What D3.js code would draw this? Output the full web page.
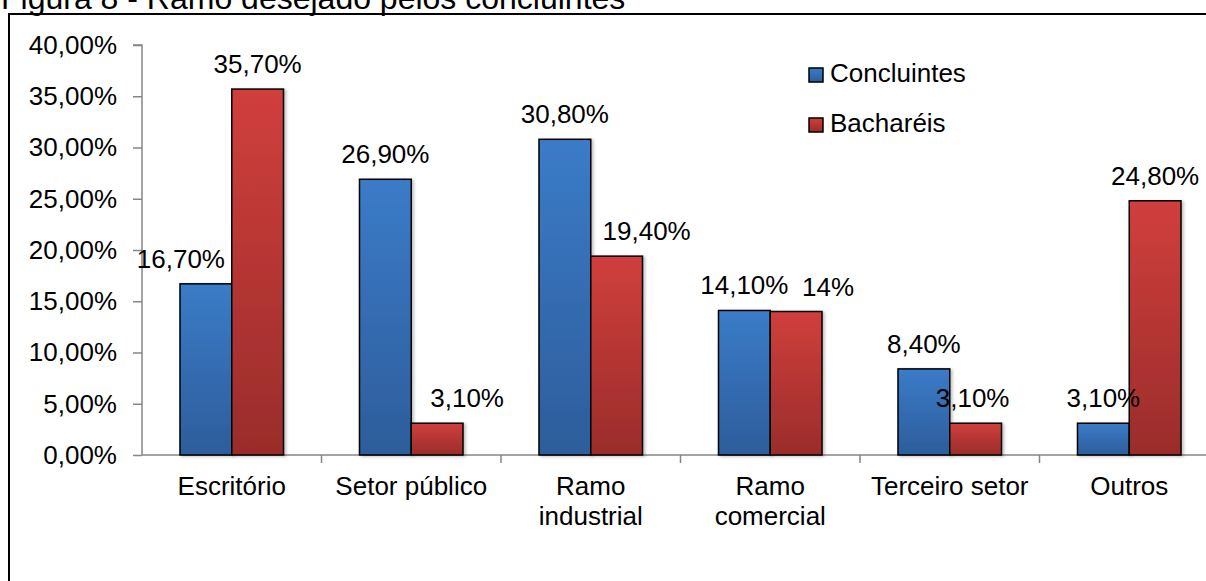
<!DOCTYPE html>
<html>
<head>
<meta charset="utf-8">
<script src="https://cdn.jsdelivr.net/npm/d3@7"></script>
<style>
  body { margin: 0; background: #fff; }
  text { font-family: Arial, "Liberation Sans", sans-serif; fill: #000; }
</style>
</head>
<body>
<svg id="chart" width="1206" height="581"></svg>
<script>
// data
let categories = ["Escritório", "Setor público", "Ramo industrial", "Ramo comercial", "Terceiro setor", "Outros"];
let categoryLines = [["Escritório"], ["Setor público"], ["Ramo", "industrial"], ["Ramo", "comercial"], ["Terceiro setor"], ["Outros"]];
let seriesNames = ["Concluintes", "Bacharéis"];
let concluintes = [0.167, 0.269, 0.308, 0.141, 0.084, 0.031];
let bachareis = [0.357, 0.031, 0.194, 0.14, 0.031, 0.248];
let concluintesLabels = ["16,70%", "26,90%", "30,80%", "14,10%", "8,40%", "3,10%"];
let bachareisLabels = ["35,70%", "3,10%", "19,40%", "14%", "3,10%", "24,80%"];
let yTicks = [0, 0.05, 0.10, 0.15, 0.20, 0.25, 0.30, 0.35, 0.40];

let svg = d3.select("#chart");
let fontSize = 26;

let ptBR = d3.formatLocale({decimal: ",", thousands: ".", grouping: [3], currency: ["R$", ""]});
let pct = ptBR.format(".2%");

let axisLeftX = 142, axisBottomY = 455, axisTopY = 45;

let x0 = d3.scaleBand()
    .domain(categories)
    .range([axisLeftX, axisLeftX + 6 * 179.5])
    .paddingInner(0)
    .paddingOuter(0);

let x1 = d3.scaleBand()
    .domain(seriesNames)
    .range([0, x0.bandwidth()])
    .paddingInner(0)
    .paddingOuter(0.734);

let y = d3.scaleLinear()
    .domain([0, 0.40])
    .range([axisBottomY, axisTopY]);

let colors = {
    "Concluintes": ["#3b7bc8", "#2d5d9b"],
    "Bacharéis": ["#d03f3c", "#9a2c2b"]
};

// labels that Excel moved sideways to dodge the neighbouring bar
let labelNudge = {
    "Escritório|Concluintes": -25,
    "Setor público|Bacharéis": 30,
    "Ramo industrial|Bacharéis": 30,
    "Ramo comercial|Bacharéis": 32,
    "Terceiro setor|Bacharéis": -3
};

let defs = svg.append("defs");
seriesNames.forEach(function (s, i) {
    let g = defs.append("linearGradient")
        .attr("id", "grad" + i)
        .attr("x1", 0).attr("y1", 0).attr("x2", 0).attr("y2", 1);
    g.append("stop").attr("offset", "0%").attr("stop-color", colors[s][0]);
    g.append("stop").attr("offset", "100%").attr("stop-color", colors[s][1]);
});
let shadow = defs.append("filter").attr("id", "shadow")
    .attr("x", "-20%").attr("y", "-20%").attr("width", "150%").attr("height", "140%");
shadow.append("feDropShadow")
    .attr("dx", 2).attr("dy", 1).attr("stdDeviation", 1.5)
    .attr("flood-color", "#000").attr("flood-opacity", 0.25);

// frame
svg.append("rect")
    .attr("x", 9).attr("y", 14)
    .attr("width", 1250).attr("height", 650)
    .attr("fill", "none")
    .attr("stroke", "#000")
    .attr("stroke-width", 2);

// title (partly cut off by the top)
svg.append("text")
    .attr("x", 1).attr("y", 9)
    .style("font-size", "32px")
    .text("Figura 8 - Ramo desejado pelos concluintes");

// y axis
let yAxis = svg.append("g")
    .attr("transform", "translate(" + axisLeftX + ",0)")
    .call(d3.axisLeft(y).tickValues(yTicks).tickFormat(pct).tickSize(9).tickPadding(16));
yAxis.select(".domain").attr("stroke", "#868686").attr("stroke-width", 1.5)
    .attr("d", "M-9," + axisTopY + "H0V" + axisBottomY);
yAxis.selectAll(".tick line").attr("stroke", "#868686").attr("stroke-width", 1.5);
yAxis.selectAll(".tick text")
    .style("font-size", fontSize + "px")
    .style("font-family", "Arial, 'Liberation Sans', sans-serif")
    .attr("fill", "#000");

// x axis line and category ticks
let xLine = svg.append("g");
xLine.append("line")
    .attr("x1", axisLeftX).attr("x2", 1206)
    .attr("y1", axisBottomY).attr("y2", axisBottomY)
    .attr("stroke", "#868686").attr("stroke-width", 1.5);
xLine.selectAll(".xtick")
    .data(categories.slice(1))
    .enter().append("line")
    .attr("class", "xtick")
    .attr("x1", d => x0(d)).attr("x2", d => x0(d))
    .attr("y1", axisBottomY).attr("y2", axisBottomY + 8)
    .attr("stroke", "#868686").attr("stroke-width", 1.5);

// bars
let rows = categories.map(function (c, i) {
    return {
        category: c,
        values: [
            {series: "Concluintes", idx: 0, value: concluintes[i], label: concluintesLabels[i]},
            {series: "Bacharéis", idx: 1, value: bachareis[i], label: bachareisLabels[i]}
        ]
    };
});

let groups = svg.selectAll(".cat")
    .data(rows)
    .enter().append("g")
    .attr("class", "cat")
    .attr("transform", d => "translate(" + x0(d.category) + ",0)");

groups.selectAll("rect")
    .data(d => d.values)
    .enter().append("rect")
    .attr("x", d => x1(d.series))
    .attr("y", d => y(d.value))
    .attr("width", x1.bandwidth())
    .attr("height", d => axisBottomY - y(d.value))
    .attr("fill", d => "url(#grad" + d.idx + ")")
    .attr("stroke", "#000")
    .attr("stroke-width", 1.5)
    .attr("filter", "url(#shadow)");

// data labels
groups.selectAll(".lbl")
    .data(d => d.values.map(v => Object.assign({category: d.category}, v)))
    .enter().append("text")
    .attr("class", "lbl")
    .attr("x", function (d) {
        let cx = x1(d.series) + x1.bandwidth() / 2;
        return cx + (labelNudge[d.category + "|" + d.series] || 0);
    })
    .attr("y", d => y(d.value) - 16)
    .attr("text-anchor", "middle")
    .style("font-size", fontSize + "px")
    .text(d => d.label);

// category labels
let catLabels = svg.selectAll(".catlbl")
    .data(categories)
    .enter().append("text")
    .attr("class", "catlbl")
    .attr("text-anchor", "middle")
    .attr("x", d => x0(d) + x0.bandwidth() / 2)
    .attr("y", 495)
    .style("font-size", fontSize + "px");
catLabels.each(function (d, i) {
    let t = d3.select(this);
    categoryLines[i].forEach(function (line, j) {
        t.append("tspan")
            .attr("x", x0(d) + x0.bandwidth() / 2)
            .attr("y", 495 + j * 30)
            .text(line);
    });
});

// legend
let legend = svg.selectAll(".legend")
    .data(seriesNames)
    .enter().append("g")
    .attr("class", "legend")
    .attr("transform", (d, i) => "translate(809," + (68 + i * 50) + ")");
legend.append("rect")
    .attr("width", 14).attr("height", 14)
    .attr("fill", (d, i) => "url(#grad" + i + ")")
    .attr("stroke", "#000")
    .attr("stroke-width", 1.5);
legend.append("text")
    .attr("x", 21)
    .attr("y", 14)
    .style("font-size", fontSize + "px")
    .text(d => d);
</script>
</body>
</html>
